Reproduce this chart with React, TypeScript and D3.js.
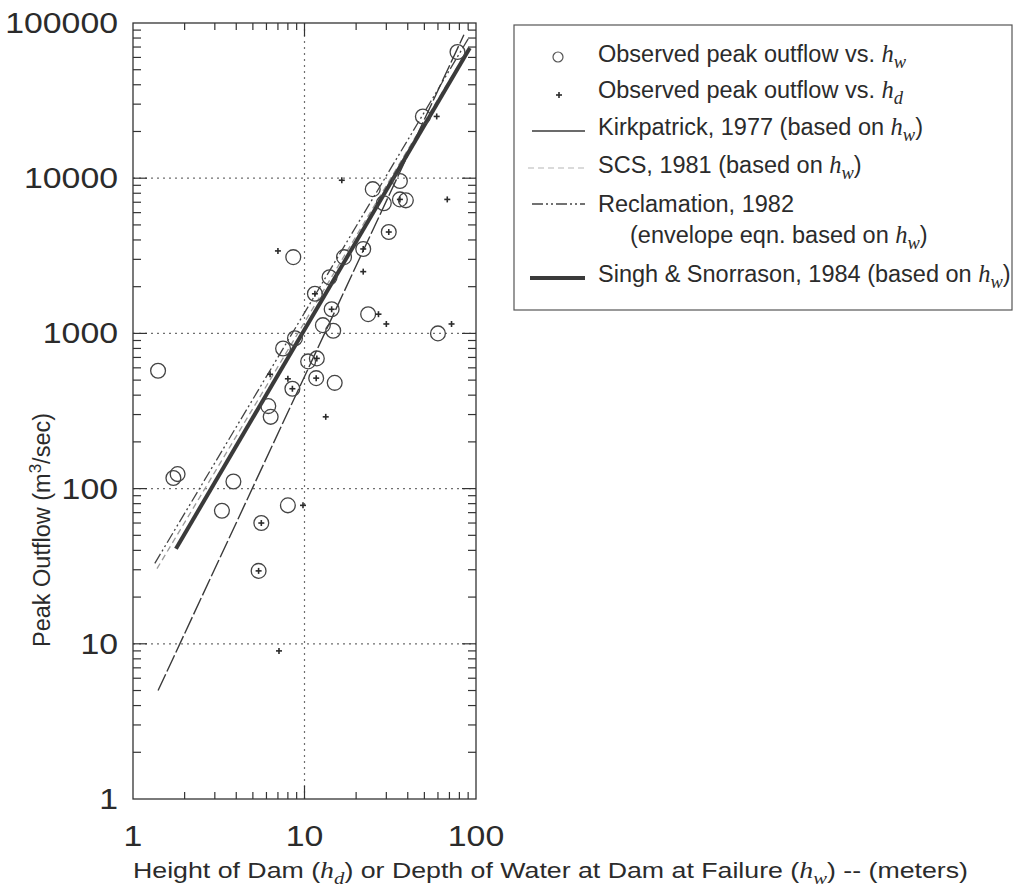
import React from 'react';
import * as d3 from 'd3';

const W = 1021;
const H = 891;
const plot = { left: 133, right: 476, top: 23, bottom: 799 };

// Axis labels and reference grid lines
const xTickLabels = [1, 10, 100];
const yTickLabels = [1, 10, 100, 1000, 10000, 100000];
const xGridLines = [10];
const yGridLines = [10, 100, 1000, 10000];

// Observed peak outflow (m3/s) plotted against depth of water at failure, h_w (m)
const obsVsDepth: [number, number][] = [
  [78, 65000], [49, 25000], [36, 9600], [25, 8500], [36, 7300], [39, 7200],
  [29, 6900], [31, 4500], [22, 3500], [8.6, 3100], [17, 3100], [14, 2300],
  [11.5, 1800], [14.4, 1430], [23.5, 1330], [12.8, 1130], [14.7, 1040],
  [60, 1000], [8.8, 930], [7.5, 800], [10.5, 660], [11.8, 690], [11.7, 515],
  [15, 480], [8.5, 440], [1.4, 575], [6.15, 340], [6.35, 290], [1.82, 124],
  [1.72, 117], [3.85, 111], [3.3, 72], [8.0, 78], [5.6, 60], [5.4, 29.5],
];

// Observed peak outflow (m3/s) plotted against height of dam, h_d (m)
const obsVsHeight: [number, number][] = [
  [16.5, 9700], [68, 7300], [22, 2500], [7, 3400], [59, 25000], [27, 1330],
  [30, 1150], [72, 1150], [8.0, 510], [13.3, 290], [9.8, 78], [7.1, 9],
  [6.3, 545], [31, 4500], [11.5, 1800], [14.4, 1430], [11.8, 690],
  [11.7, 515], [8.5, 440], [5.6, 60], [5.4, 29.5], [22, 3500], [36, 7300],
];

// Regression / envelope curves, end points (h, Q)
const kirkpatrick: [number, number][] = [[1.4, 5], [85, 84000]];
const scs: [number, number][] = [[1.38, 30.5], [90, 68000]];
const reclamation: [number, number][] = [[1.34, 33], [90, 79000]];
const singhSnorrason: [number, number][] = [[1.78, 41], [92, 69000]];

const sans = '"Liberation Sans", Arial, Helvetica, sans-serif';
const serif = '"Liberation Serif", "Times New Roman", serif';
const ink = '#2b2b2b';

const x = d3.scaleLog().domain([1, 100]).range([plot.left, plot.right]);
const y = d3.scaleLog().domain([1, 100000]).range([plot.bottom, plot.top]);
const line = d3
  .line<[number, number]>()
  .x((d) => x(d[0]))
  .y((d) => y(d[1]));

const isDecade = (v: number) => Math.abs(Math.log10(v) - Math.round(Math.log10(v))) < 1e-9;
const digitWidth = 18.8;

// italic h with subscript
function HSub({ sub, size = 23.5 }: { sub: string; size?: number }) {
  return (
    <>
      <tspan fontFamily={serif} fontStyle="italic" fontSize={size + 1}>h</tspan>
      <tspan fontFamily={serif} fontStyle="italic" fontSize={size - 5} baselineShift="-6">
        {sub}
      </tspan>
    </>
  );
}

function Star({ cx, cy }: { cx: number; cy: number }) {
  return (
    <g stroke={ink} strokeWidth={1.6}>
      <line x1={cx - 3} x2={cx + 3} y1={cy} y2={cy} />
      <line x1={cx} x2={cx} y1={cy - 3} y2={cy + 3} />
    </g>
  );
}

export default function App() {
  const xTicks = x.ticks().filter((v) => v > 1 && v < 100);
  const yTicks = y.ticks().filter((v) => v > 1 && v < 100000);

  const legendRows = [
    { y: 62, label: <>Observed peak outflow vs. <HSub sub="w" /></> },
    { y: 98, label: <>Observed peak outflow vs. <HSub sub="d" /></> },
    { y: 135, label: <>Kirkpatrick, 1977 (based on <HSub sub="w" />)</> },
    { y: 173, label: <>SCS, 1981 (based on <HSub sub="w" />)</> },
    { y: 212, label: <>Reclamation, 1982</> },
    { y: 282, label: <>Singh &amp; Snorrason, 1984 (based on <HSub sub="w" />)</> },
  ];

  return (
    <svg
      width={W}
      height={H}
      viewBox={`0 0 ${W} ${H}`}
      style={{ position: 'absolute', left: 0, top: 0, background: '#fff' }}
    >
      <rect x={0} y={0} width={W} height={H} fill="#fff" />

      {/* grid */}
      <g stroke="#6f6f6f" strokeWidth={1.2} strokeDasharray="2,4">
        {yGridLines.map((v) => (
          <line key={`gy${v}`} x1={plot.left} x2={plot.right} y1={y(v)} y2={y(v)} />
        ))}
        {xGridLines.map((v) => (
          <line key={`gx${v}`} x1={x(v)} x2={x(v)} y1={plot.top} y2={plot.bottom} />
        ))}
      </g>

      {/* frame */}
      <rect
        x={plot.left}
        y={plot.top}
        width={plot.right - plot.left}
        height={plot.bottom - plot.top}
        fill="none"
        stroke="#333"
        strokeWidth={1.3}
      />

      {/* ticks */}
      <g stroke="#333" strokeWidth={1.2}>
        {xTicks.map((v) => {
          const len = isDecade(v) ? 13 : 7;
          return (
            <g key={`xt${v}`}>
              <line x1={x(v)} x2={x(v)} y1={plot.bottom} y2={plot.bottom - len} />
              <line x1={x(v)} x2={x(v)} y1={plot.top} y2={plot.top + len} />
            </g>
          );
        })}
        {yTicks.map((v) => {
          const len = isDecade(v) ? 14 : 8;
          return (
            <g key={`yt${v}`}>
              <line x1={plot.left} x2={plot.left + len} y1={y(v)} y2={y(v)} />
              <line x1={plot.right} x2={plot.right - len} y1={y(v)} y2={y(v)} />
            </g>
          );
        })}
      </g>

      {/* tick labels */}
      <g fontFamily={sans} fontSize={29} fill={ink}>
        {yTickLabels.map((v) => (
          <text
            key={`yl${v}`}
            x={118}
            y={y(v) + 10}
            textAnchor="end"
            textLength={String(v).length * digitWidth}
            lengthAdjust="spacingAndGlyphs"
          >
            {v}
          </text>
        ))}
        {xTickLabels.map((v) => (
          <text
            key={`xl${v}`}
            x={x(v)}
            y={846}
            textAnchor="middle"
            textLength={String(v).length * digitWidth}
            lengthAdjust="spacingAndGlyphs"
          >
            {v}
          </text>
        ))}
      </g>

      {/* axis titles */}
      <text
        x={133}
        y={878}
        fontFamily={sans}
        fontSize={22}
        fill={ink}
        textLength={835}
        lengthAdjust="spacingAndGlyphs"
      >
        Height of Dam (<HSub sub="d" size={22} />) or Depth of Water at Dam at Failure (
        <HSub sub="w" size={22} />) -- (meters)
      </text>
      <text
        transform="translate(50,530) rotate(-90)"
        textAnchor="middle"
        fontFamily={sans}
        fontSize={23.5}
        fill={ink}
      >
        Peak Outflow (m<tspan fontSize={17} baselineShift="9">3</tspan>/sec)
      </text>

      {/* fitted curves */}
      <g fill="none">
        <path d={line(scs) ?? ''} stroke="#9a9a9a" strokeWidth={1.3} strokeDasharray="6,4" />
        <path
          d={line(reclamation) ?? ''}
          stroke="#444"
          strokeWidth={1.3}
          strokeDasharray="11,3,2,3,2,3"
        />
        <path d={line(kirkpatrick) ?? ''} stroke="#3a3a3a" strokeWidth={1.4} strokeDasharray="18,3" />
        <path d={line(singhSnorrason) ?? ''} stroke="#3a3a3a" strokeWidth={4} />
      </g>

      {/* observations */}
      <g fill="none" stroke="#444" strokeWidth={1.3}>
        {obsVsDepth.map((d, i) => (
          <circle key={`c${i}`} cx={x(d[0])} cy={y(d[1])} r={7.4} />
        ))}
      </g>
      {obsVsHeight.map((d, i) => (
        <Star key={`s${i}`} cx={x(d[0])} cy={y(d[1])} />
      ))}

      {/* legend */}
      <rect x={514} y={25} width={498} height={285} fill="#fff" stroke="#555" strokeWidth={1.2} />
      <circle cx={558} cy={57} r={5} fill="none" stroke="#555" strokeWidth={1.2} />
      <Star cx={559} cy={95} />
      <line x1={532} x2={585} y1={131} y2={131} stroke="#3a3a3a" strokeWidth={1.3} />
      <line x1={528} x2={585} y1={168} y2={168} stroke="#b5b5b5" strokeWidth={1.2} strokeDasharray="6,4" />
      <line
        x1={532}
        x2={585}
        y1={204}
        y2={204}
        stroke="#444"
        strokeWidth={1.3}
        strokeDasharray="11,3,2,3,2,3"
      />
      <line x1={530} x2={585} y1={278} y2={278} stroke="#3a3a3a" strokeWidth={4} />
      <g fontFamily={sans} fontSize={23.5} fill={ink}>
        {legendRows.map((r, i) => (
          <text key={`lg${i}`} x={598} y={r.y}>
            {r.label}
          </text>
        ))}
        <text x={630} y={243}>
          (envelope eqn. based on <HSub sub="w" />)
        </text>
      </g>
    </svg>
  );
}
